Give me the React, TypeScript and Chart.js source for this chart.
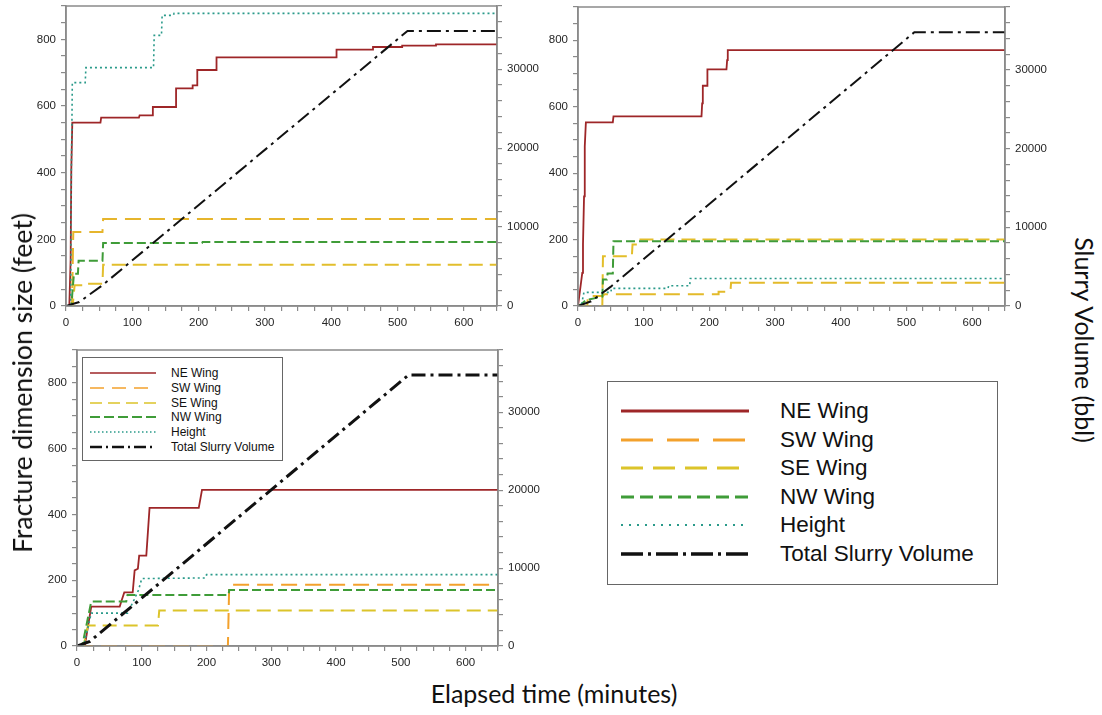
import React, { useEffect, useRef } from "react";
import { Chart, registerables } from "chart.js";
Chart.register(...registerables);

type P = [number, number][];

// ---------- Top-left panel ----------
const tlNE: P = [[0,0],[5,0],[7,140],[8,410],[9.5,550],[52,550],[53,565],[110,565],[111,572],[131,572],[131,597],[166,597],[166,653],[191,653],[191,662],[198,662],[198,708],[227,708],[227,746],[408,746],[408,769],[463,769],[463,777],[507,777],[507,781],[558,781],[558,785],[650,785]];
const tlSW: P = [[0,0],[9,0],[11,222],[55,222],[56,261],[650,261]];
const tlSE: P = [[0,0],[10,0],[13,62],[29,62],[30,67],[55,67],[56,124],[650,124]];
const tlNW: P = [[0,0],[8,0],[10,50],[12,97],[18,97],[19,136],[55,136],[56,189],[205,189],[206,192],[650,192]];
const tlH: P = [[0,0],[7,0],[8,400],[9,560],[9.5,670],[29,670],[30,715],[132,715],[133,812],[144,812],[145,872],[162,872],[163,878],[650,878]];
const tlT: P = [[0,0],[20,500],[56,2700],[515,34840],[650,34840]];

// ---------- Top-right panel ----------
const trNE: P = [[0,0],[1,0],[6.5,100],[7.6,185],[9.2,330],[10.3,480],[12,553],[53,553],[54,571],[188,571],[189,610],[190,663],[197,663],[197,712],[226,712],[227,740],[228,770],[650,770]];
const trSW: P = [[0,0],[14,0],[15,30],[38,30],[40,35],[214,35],[214,43],[232,43],[233,70],[650,70]];
const trSE: P = [[0,0],[37,0],[38,150],[82,150],[83,185],[91,185],[92,200],[650,200]];
const trNW: P = [[0,0],[5,5],[12,18],[37,28],[38,80],[44,80],[45,98],[53,98],[54,195],[650,195]];
const trH: P = [[0,0],[5,0],[9,41],[50,41],[51,53],[137,53],[138,61],[170,61],[171,83],[650,83]];
const trT: P = [[0,0],[20,600],[50,2460],[512,34790],[650,34790]];

// ---------- Bottom panel ----------
const btNE: P = [[0,0],[12,0],[22,120],[66,120],[68,133],[73,163],[86,163],[89,230],[94,235],[96,275],[107,275],[112,420],[188,420],[193,475],[650,475]];
const btSW: P = [[0,0],[233,0],[235,186],[650,186]];
const btSE: P = [[0,0],[10,0],[17,62],[125,62],[127,108],[650,108]];
const btNW: P = [[0,0],[8,0],[22,135],[76,135],[78,155],[234,155],[235,170],[650,170]];
const btH: P = [[0,0],[10,0],[22,100],[78,100],[88,140],[95,170],[100,205],[198,207],[200,217],[650,217]];
const btT: P = [[0,0],[20,600],[512,34800],[650,34800]];

const seriesNames = ["NE Wing", "SW Wing", "SE Wing", "NW Wing", "Height", "Total Slurry Volume"];
const xTicks = { min: 0, max: 650, step: 25, labelEvery: 100 };
const yTicks = { min: 0, max: 900, step: 50, labelEvery: 200 };
const y2Ticks = { min: 0, max: 38000, step: 2000, labelEvery: 10000 };

const COLORS = ["#9E2628", "#F3A12C", "#DCC42A", "#3F9C38", "#2A9A8A", "#111111"];
const COLORS_TL = ["#9E2628", "#E6B52C", "#E2BE2C", "#3F9C38", "#2A9A8A", "#111111"];
const COLORS_TR = ["#9E2628", "#E3BA2A", "#E3BE2A", "#3F9C38", "#2A9A8A", "#111111"];
const DASHES: number[][] = [[], [16, 8], [14, 7], [9, 4], [2, 3], [14, 5, 3, 5]];
const WIDTHS = [1.8, 2, 2, 2, 1.6, 2.2];

const AXIS = "#8a8a8a";
const TICKFONT = { family: "'Liberation Sans', Arial, sans-serif", size: 11.5 };

const framePlugin = {
  id: "frame",
  afterDraw(chart: any) {
    const { ctx, chartArea: a } = chart;
    ctx.save();
    ctx.strokeStyle = AXIS;
    ctx.lineWidth = 1.5;
    ctx.strokeRect(a.left, a.top, a.right - a.left, a.bottom - a.top);
    ctx.restore();
  },
};

function fixW(w: number) {
  return (s: any) => {
    s.width = w;
    s.paddingTop = 0; s.paddingBottom = 0; s.paddingLeft = 0; s.paddingRight = 0;
  };
}
function fixH(h: number) {
  return (s: any) => {
    s.height = h;
    s.paddingTop = 0; s.paddingBottom = 0; s.paddingLeft = 0; s.paddingRight = 0;
  };
}

function makeTicks(t: { min: number; max: number; step: number; labelEvery: number }) {
  return (s: any) => {
    const arr = [];
    for (let v = t.min; v <= t.max + 1e-9; v += t.step) arr.push({ value: v });
    s.ticks = arr;
  };
}

interface PanelProps {
  left: number; top: number; width: number; height: number; padTop: number;
  series: P[]; slurryWidth: number; colors: string[];
}

function Panel({ left, top, width, height, padTop, series, slurryWidth, colors }: PanelProps) {
  const ref = useRef<HTMLCanvasElement>(null);
  useEffect(() => {
    const datasets = series.map((s, i) => ({
      label: seriesNames[i],
      data: s.map(([x, y]) => ({ x, y })),
      borderColor: colors[i],
      backgroundColor: colors[i],
      borderDash: DASHES[i],
      borderWidth: i === 5 ? slurryWidth : WIDTHS[i],
      pointRadius: 0,
      tension: 0,
      fill: false,
      yAxisID: i === 5 ? "y2" : "y",
      order: 6 - i,
    }));
    const grid = { display: true, drawOnChartArea: false, drawTicks: true, tickLength: 5, color: AXIS, lineWidth: 1.2 };
    const border = { display: true, color: AXIS, width: 1.5 };
    const tickStyle = { autoSkip: false, padding: 5, color: "#262626", font: TICKFONT };
    const chart = new Chart(ref.current!, {
      type: "line",
      data: { datasets },
      options: {
        animation: false,
        responsive: false,
        maintainAspectRatio: false,
        devicePixelRatio: 1,
        layout: { padding: { top: padTop, left: 0, right: 0, bottom: 0 } },
        plugins: { legend: { display: false }, tooltip: { enabled: false } },
        scales: {
          x: {
            type: "linear", min: xTicks.min, max: xTicks.max,
            afterBuildTicks: makeTicks(xTicks),
            afterFit: fixH(24),
            grid, border,
            ticks: {
              ...tickStyle, maxRotation: 0,
              callback: (v: any) => (Number(v) % xTicks.labelEvery === 0 ? String(v) : ""),
            },
          },
          y: {
            type: "linear", position: "left", min: yTicks.min, max: yTicks.max,
            afterBuildTicks: makeTicks(yTicks),
            afterFit: fixW(50),
            grid, border,
            ticks: {
              ...tickStyle,
              callback: (v: any) => (Number(v) % yTicks.labelEvery === 0 && Number(v) <= 800 ? String(v) : ""),
            },
          },
          y2: {
            type: "linear", position: "right", min: y2Ticks.min, max: y2Ticks.max,
            afterBuildTicks: makeTicks(y2Ticks),
            afterFit: fixW(50),
            grid, border,
            ticks: {
              ...tickStyle,
              callback: (v: any) => (Number(v) % y2Ticks.labelEvery === 0 ? String(v) : ""),
            },
          },
        },
      } as any,
      plugins: [framePlugin],
    });
    return () => chart.destroy();
  }, []);
  return (
    <canvas
      ref={ref}
      width={width}
      height={height}
      style={{ position: "absolute", left, top, width, height }}
    />
  );
}

function Sample({ i, w, sw, dash }: { i: number; w: number; sw: number; dash: number[] }) {
  return (
    <svg width={w} height={10} style={{ display: "block" }}>
      <line x1={0} y1={5} x2={w} y2={5} stroke={COLORS[i]} strokeWidth={sw}
        strokeDasharray={dash.length ? dash.join(" ") : undefined} />
    </svg>
  );
}

function Legend({ left, top, width, height, rowStart, rowGap, sampleX, sampleW, textX, fontSize, dashes, widths, borderW }: any) {
  return (
    <div style={{ position: "absolute", left, top, width, height, border: `${borderW}px solid #666`, boxSizing: "border-box", background: "#fff" }}>
      {seriesNames.map((n, i) => (
        <React.Fragment key={n}>
          <div style={{ position: "absolute", left: sampleX, top: rowStart + i * rowGap - 5 }}>
            <Sample i={i} w={sampleW} sw={widths[i]} dash={dashes[i]} />
          </div>
          <div style={{
            position: "absolute", left: textX, top: rowStart + i * rowGap, transform: "translateY(-50%)",
            fontFamily: "'Liberation Sans', Arial, sans-serif", fontSize, color: "#111", whiteSpace: "nowrap", lineHeight: 1,
          }}>{n}</div>
        </React.Fragment>
      ))}
    </div>
  );
}

const titleFont = "Lato, 'Open Sans', sans-serif";
const titleSize = 25;

export default function App() {
  return (
    <div style={{ position: "absolute", left: 0, top: 0, width: 1102, height: 715, background: "#fff", overflow: "hidden" }}>
      <Panel left={16} top={0} width={531} height={330} padTop={6} series={[tlNE, tlSW, tlSE, tlNW, tlH, tlT]} slurryWidth={2} colors={COLORS_TL} />
      <Panel left={528} top={0} width={527} height={330} padTop={7} series={[trNE, trSW, trSE, trNW, trH, trT]} slurryWidth={2} colors={COLORS_TR} />
      <Panel left={27} top={344} width={521} height={326} padTop={6} series={[btNE, btSW, btSE, btNW, btH, btT]} slurryWidth={3} colors={COLORS} />

      <Legend left={82} top={357} width={201} height={104} rowStart={15} rowGap={14.8} sampleX={7} sampleW={66} textX={88}
        fontSize={12} borderW={1} dashes={[[], [14, 8], [12, 6], [10, 4], [1.5, 2.5], [12, 4, 2, 4]]} widths={[1.5, 1.5, 1.5, 2, 1.5, 2.5]} />

      <Legend left={607} top={381} width={391} height={204} rowStart={29} rowGap={28.6} sampleX={13} sampleW={128} textX={172}
        fontSize={22.5} borderW={1.5} dashes={[[], [32, 14], [22, 10], [13, 6], [2, 6], [22, 5, 3, 5]]} widths={[3, 3, 3, 3, 2, 3.5]} />

      <div style={{ position: "absolute", left: 554, top: 693, transform: "translate(-50%,-50%)", fontFamily: titleFont, fontSize: titleSize, color: "#111", whiteSpace: "nowrap" }}>
        Elapsed time (minutes)
      </div>
      <div style={{ position: "absolute", left: 22, top: 383, transform: "translate(-50%,-50%) rotate(-90deg)", fontFamily: titleFont, fontSize: 26.5, color: "#111", whiteSpace: "nowrap" }}>
        Fracture dimension size (feet)
      </div>
      <div style={{ position: "absolute", left: 1085, top: 340, transform: "translate(-50%,-50%) rotate(90deg)", fontFamily: titleFont, fontSize: titleSize, color: "#111", whiteSpace: "nowrap" }}>
        Slurry Volume (bbl)
      </div>
    </div>
  );
}
